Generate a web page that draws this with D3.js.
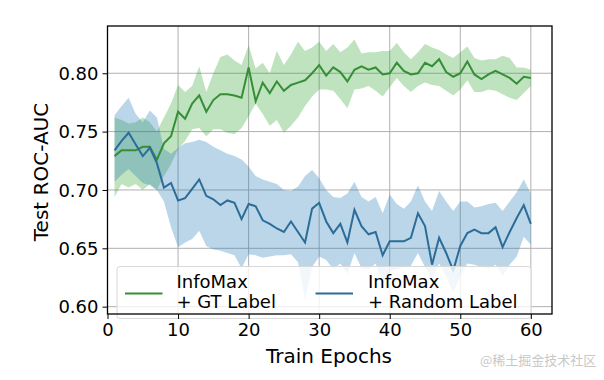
<!DOCTYPE html>
<html>
<head>
<meta charset="utf-8">
<script src="https://cdn.jsdelivr.net/npm/d3@7/dist/d3.min.js"></script>
<style>
  html, body { margin: 0; padding: 0; background: #fff; }
  svg { display: block; font-family: "DejaVu Sans", sans-serif; }
</style>
</head>
<body>
<svg id="chart" width="604" height="380"></svg>
<script>
// ---- Data ----
const epochs = d3.range(1, 61);

const gtMean = [0.729,0.734,0.734,0.734,0.737,0.737,0.726,0.740,0.746,0.767,
                0.761,0.774,0.781,0.767,0.777,0.782,0.782,0.781,0.779,0.805,
                0.776,0.792,0.783,0.793,0.785,0.790,0.792,0.794,0.800,0.807,
                0.798,0.805,0.801,0.793,0.803,0.806,0.803,0.805,0.799,0.800,
                0.809,0.802,0.799,0.800,0.809,0.806,0.812,0.801,0.797,0.800,
                0.810,0.799,0.795,0.799,0.802,0.799,0.796,0.791,0.797,0.796];
const gtUpper = [0.762,0.760,0.757,0.758,0.762,0.758,0.750,0.762,0.774,0.790,
                 0.784,0.789,0.806,0.784,0.800,0.814,0.816,0.811,0.807,0.824,
                 0.804,0.809,0.800,0.819,0.807,0.816,0.827,0.819,0.822,0.827,
                 0.819,0.825,0.818,0.822,0.829,0.817,0.818,0.818,0.819,0.819,
                 0.826,0.818,0.812,0.818,0.825,0.822,0.820,0.816,0.813,0.818,
                 0.823,0.813,0.811,0.812,0.812,0.815,0.813,0.805,0.805,0.803];
const gtLower = [0.694,0.705,0.702,0.705,0.700,0.705,0.700,0.712,0.722,0.735,
                 0.742,0.752,0.753,0.746,0.752,0.752,0.749,0.748,0.753,0.763,
                 0.774,0.765,0.755,0.760,0.749,0.755,0.762,0.772,0.780,0.786,
                 0.786,0.785,0.778,0.770,0.786,0.787,0.789,0.785,0.780,0.788,
                 0.796,0.789,0.784,0.789,0.792,0.790,0.789,0.785,0.781,0.786,
                 0.794,0.784,0.784,0.786,0.785,0.782,0.779,0.777,0.783,0.789];

const rndMean = [0.734,0.742,0.749,0.739,0.729,0.736,0.723,0.702,0.706,0.691,
                 0.693,0.701,0.709,0.695,0.692,0.687,0.691,0.689,0.675,0.688,
                 0.686,0.674,0.671,0.667,0.664,0.673,0.664,0.655,0.684,0.689,
                 0.673,0.663,0.671,0.655,0.683,0.669,0.662,0.664,0.644,0.656,
                 0.656,0.656,0.659,0.680,0.669,0.636,0.659,0.646,0.631,0.652,
                 0.663,0.666,0.663,0.663,0.668,0.651,0.664,0.676,0.687,0.671];
const rndUpper = [0.764,0.772,0.779,0.765,0.758,0.768,0.762,0.735,0.731,0.736,
                  0.740,0.741,0.743,0.741,0.737,0.734,0.731,0.729,0.726,0.720,
                  0.712,0.709,0.707,0.705,0.700,0.699,0.703,0.712,0.717,0.710,
                  0.700,0.694,0.693,0.697,0.707,0.694,0.690,0.694,0.680,0.696,
                  0.688,0.684,0.690,0.704,0.690,0.682,0.699,0.690,0.682,0.690,
                  0.690,0.685,0.686,0.688,0.689,0.682,0.690,0.698,0.709,0.697];
const rndLower = [0.707,0.713,0.718,0.712,0.706,0.704,0.700,0.690,0.668,0.651,
                  0.655,0.658,0.665,0.652,0.649,0.648,0.646,0.644,0.633,0.645,
                  0.644,0.642,0.643,0.644,0.644,0.645,0.638,0.606,0.634,0.643,
                  0.640,0.632,0.637,0.628,0.646,0.633,0.632,0.637,0.620,0.630,
                  0.632,0.634,0.635,0.646,0.634,0.623,0.637,0.626,0.612,0.626,
                  0.637,0.636,0.634,0.633,0.636,0.626,0.636,0.643,0.660,0.653];

const xTicks = [0, 10, 20, 30, 40, 50, 60];
const yTicks = [0.60, 0.65, 0.70, 0.75, 0.80];
const seriesNames = [["InfoMax", "+ GT Label"], ["InfoMax", "+ Random Label"]];

// ---- Layout ----
const svg = d3.select("#chart");
const L = 107.5, R = 552, T = 26, B = 314;
const x = d3.scaleLinear().domain([0, 63]).range([L, R]);
const y = d3.scaleLinear().domain([0.5937, 0.8405]).range([B, T]);

const greenLine = "#348f37", greenFill = "#2ca02c";
const blueLine = "#2b6d98", blueFill = "#1f77b4";

// grid
const grid = svg.append("g");
grid.selectAll("line.gx").data(xTicks.slice(1)).join("line")
  .attr("x1", d => x(d)).attr("x2", d => x(d)).attr("y1", T).attr("y2", B)
  .attr("stroke", "#b0b0b0").attr("stroke-width", 1);
grid.selectAll("line.gy").data(yTicks).join("line")
  .attr("x1", L).attr("x2", R).attr("y1", d => y(d)).attr("y2", d => y(d))
  .attr("stroke", "#b0b0b0").attr("stroke-width", 1);

// bands
function band(lo, hi) {
  return d3.area().x((d, i) => x(epochs[i])).y0((d, i) => y(lo[i])).y1((d, i) => y(hi[i]))(epochs);
}
function line(vals) {
  return d3.line().x((d, i) => x(epochs[i])).y((d, i) => y(vals[i]))(epochs);
}
svg.append("path").attr("d", band(gtLower, gtUpper)).attr("fill", greenFill).attr("fill-opacity", 0.3);
svg.append("path").attr("d", band(rndLower, rndUpper)).attr("fill", blueFill).attr("fill-opacity", 0.3);
svg.append("path").attr("d", line(gtMean)).attr("fill", "none").attr("stroke", greenLine).attr("stroke-width", 2);
svg.append("path").attr("d", line(rndMean)).attr("fill", "none").attr("stroke", blueLine).attr("stroke-width", 2);

// legend
const lg = svg.append("g");
lg.append("rect").attr("x", 117).attr("y", 266.5).attr("width", 414).attr("height", 52).attr("rx", 3)
  .attr("fill", "#fff").attr("fill-opacity", 0.8).attr("stroke", "#d8d8d8").attr("stroke-width", 1);
const legendCols = [{x0: 125, tx: 176.5, color: greenLine}, {x0: 315.5, tx: 368, color: blueLine}];
legendCols.forEach((c, i) => {
  lg.append("line").attr("x1", c.x0).attr("x2", c.x0 + 37.5).attr("y1", 293.5).attr("y2", 293.5)
    .attr("stroke", c.color).attr("stroke-width", 2);
  lg.append("text").attr("x", c.tx).attr("y", 287.5).attr("font-size", 18).attr("fill", "#000").text(seriesNames[i][0]);
  lg.append("text").attr("x", c.tx).attr("y", 308).attr("font-size", 18).attr("fill", "#000").text(seriesNames[i][1]);
});

// axes
const xAxis = svg.append("g").attr("transform", `translate(0,${B})`)
  .call(d3.axisBottom(x).tickValues(xTicks).tickFormat(d3.format("d")).tickSizeOuter(0).tickSize(5).tickPadding(4));
const yAxis = svg.append("g").attr("transform", `translate(${L},0)`)
  .call(d3.axisLeft(y).tickValues(yTicks).tickFormat(d3.format(".2f")).tickSizeOuter(0).tickSize(5).tickPadding(4));
[xAxis, yAxis].forEach(a => {
  a.select(".domain").remove();
  a.selectAll("text").attr("font-size", 18).attr("font-family", "DejaVu Sans").attr("fill", "#000");
  a.selectAll("line").attr("stroke", "#000");
});
yAxis.selectAll("text").attr("dy", "0.35em");

// frame
svg.append("rect").attr("x", L).attr("y", T).attr("width", R - L).attr("height", B - T)
  .attr("fill", "none").attr("stroke", "#000").attr("stroke-width", 1.3);

// axis labels
svg.append("text").attr("x", 329).attr("y", 363).attr("text-anchor", "middle")
  .attr("font-size", 20).attr("fill", "#000").text("Train Epochs");
svg.append("text").attr("transform", "translate(47.5,172) rotate(-90)").attr("text-anchor", "middle")
  .attr("font-size", 20).attr("fill", "#000").text("Test ROC-AUC");

// watermark
svg.append("text").attr("x", 480).attr("y", 365).attr("font-size", 13)
  .attr("font-family", "Noto Sans CJK SC").attr("fill", "#c8c8c8").text("@稀土掘金技术社区");
</script>
</body>
</html>
